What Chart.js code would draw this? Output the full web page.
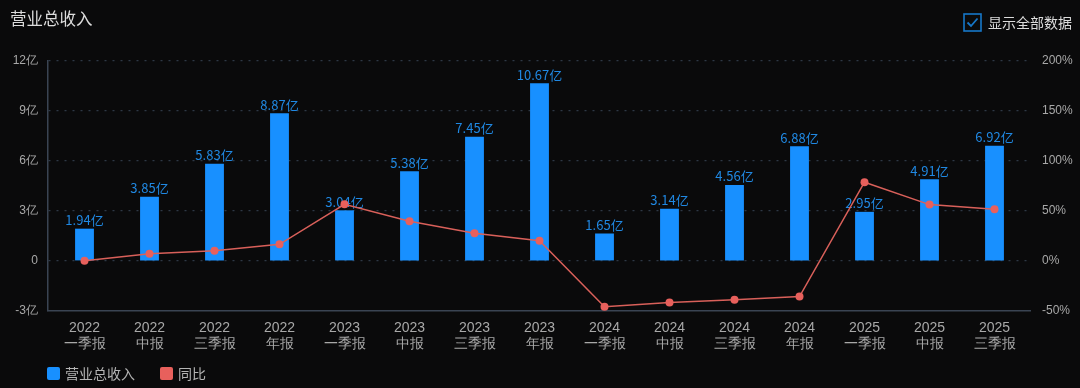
<!DOCTYPE html>
<html>
<head>
<meta charset="utf-8">
<script src="https://cdn.jsdelivr.net/npm/chart.js@4.4.0/dist/chart.umd.min.js"></script>
<style>
  html, body { margin: 0; padding: 0; background: #0a0a0b; }
  body { width: 1080px; height: 388px; position: relative; overflow: hidden;
         font-family: "Noto Sans CJK SC", "Noto Sans", sans-serif; }
  #title { position: absolute; left: 10px; top: 6px; font-size: 16.5px; color: #dcdcdc; }
  #toggle { position: absolute; left: 963px; top: 12px; display: flex; align-items: center;
            font-size: 14px; color: #dcdcdc; }
  #toggle svg { margin-right: 6px; }
  #legend { position: absolute; left: 47px; top: 363px; display: flex; font-size: 14px; color: #b4b4b4; }
  #legend .item { display: flex; align-items: center; margin-right: 25px; }
  #legend .sw { width: 13px; height: 13px; border-radius: 2px; margin-right: 5px; }
  #wrap { position: absolute; left: 0; top: 0; width: 1080px; height: 388px; }
</style>
</head>
<body>
<div id="wrap"><canvas id="revChart"></canvas></div>
<div id="title">营业总收入</div>
<div id="toggle">
  <svg width="19" height="19" viewBox="0 0 19 19">
    <rect x="1" y="1" width="17" height="17" fill="none" stroke="#1677c8" stroke-width="1.6"/>
    <polyline points="4.5,9.5 8,13 14.5,5.5" fill="none" stroke="#1677c8" stroke-width="1.8"/>
  </svg>
  显示全部数据
</div>
<div id="legend">
  <div class="item"><span class="sw" style="background:#1890ff"></span>营业总收入</div>
  <div class="item"><span class="sw" style="background:#e8605c"></span>同比</div>
</div>
<script>
// report periods
const years = ["2022", "2022", "2022", "2022", "2023", "2023", "2023", "2023",
               "2024", "2024", "2024", "2024", "2025", "2025", "2025"];
const periods = ["一季报", "中报", "三季报", "年报", "一季报", "中报", "三季报", "年报",
                 "一季报", "中报", "三季报", "年报", "一季报", "中报", "三季报"];
// 营业总收入, 亿
const revenue = [1.94, 3.85, 5.83, 8.87, 3.04, 5.38, 7.45, 10.67,
                 1.65, 3.14, 4.56, 6.88, 2.95, 4.91, 6.92];
// 同比, %
const yoy = [0.3, 7.3, 10.3, 16.7, 56.7, 39.7, 27.8, 20.3,
             -45.7, -41.6, -38.8, -35.5, 78.8, 56.4, 51.8];

const labels = years.map((y, i) => [y, periods[i]]);

// value labels above bars
const barLabels = {
    id: "barLabels",
    afterDatasetDraw(chart, args) {
        if (args.index !== 0) return;
        const ctx = chart.ctx;
        ctx.save();
        ctx.font = "13px 'Noto Sans CJK SC', sans-serif";
        ctx.fillStyle = "#2088e2";
        ctx.textAlign = "center";
        ctx.textBaseline = "bottom";
        args.meta.data.forEach((bar, i) => {
            ctx.fillText(revenue[i].toFixed(2) + "亿", bar.x, bar.y - 2);
        });
        ctx.restore();
    }
};

// categories sit a few px inside the axis lines
const xInset = {
    id: "xInset",
    afterLayout(chart) {
        const s = chart.scales.x;
        s._startPixel += 4;
        s._endPixel -= 3;
        s._length = s._endPixel - s._startPixel;
    }
};

const ctx = document.getElementById("revChart");
new Chart(ctx, {
    type: "bar",
    data: {
        labels: labels,
        datasets: [
            {
                label: "营业总收入",
                data: revenue,
                backgroundColor: "#1890ff",
                yAxisID: "y",
                order: 1,
                barPercentage: 0.58,
                categoryPercentage: 0.5,
            },
            {
                type: "line",
                label: "同比",
                data: yoy,
                borderColor: "#d9605a",
                backgroundColor: "#e8605c",
                borderWidth: 1.5,
                pointRadius: 4,
                pointBorderWidth: 0,
                yAxisID: "y1",
                order: 0,
            },
        ],
    },
    options: {
        responsive: true,
        maintainAspectRatio: false,
        animation: false,
        layout: { padding: { top: 61, bottom: 28, left: 0, right: 0 } },
        plugins: {
            legend: { display: false },
            tooltip: { enabled: false },
        },
        scales: {
            x: {
                grid: { display: false, drawTicks: false },
                border: { color: "#3a4453", width: 1.5 },
                ticks: {
                    color: "#a8a8a8",
                    font: { size: 14, lineHeight: 1.15 },
                    padding: 9,
                    maxRotation: 0,
                    autoSkip: false,
                },
                afterFit(scale) { scale.height = 49; },
            },
            y: {
                position: "left",
                min: -3,
                max: 12,
                ticks: {
                    stepSize: 3,
                    color: "#a8a8a8",
                    font: { size: 12 },
                    padding: 10,
                    callback: (v) => (v === 0 ? "0" : v + "亿"),
                },
                grid: {
                    color: (c) => (c.tick.value === -3 ? "rgba(0,0,0,0)" : "#2e3846"),
                    drawTicks: false,
                    lineWidth: 1.2,
                },
                border: { color: "#3a4453", width: 1.5, dash: [2, 6] },
                afterFit(scale) { scale.width = 48; },
            },
            y1: {
                position: "right",
                min: -50,
                max: 200,
                ticks: {
                    stepSize: 50,
                    color: "#a8a8a8",
                    font: { size: 12 },
                    padding: 12,
                    callback: (v) => v + "%",
                },
                grid: { display: false, drawTicks: false },
                border: { display: false },
                afterFit(scale) { scale.width = 50; },
            },
        },
    },
    plugins: [barLabels, xInset],
});
</script>
</body>
</html>
